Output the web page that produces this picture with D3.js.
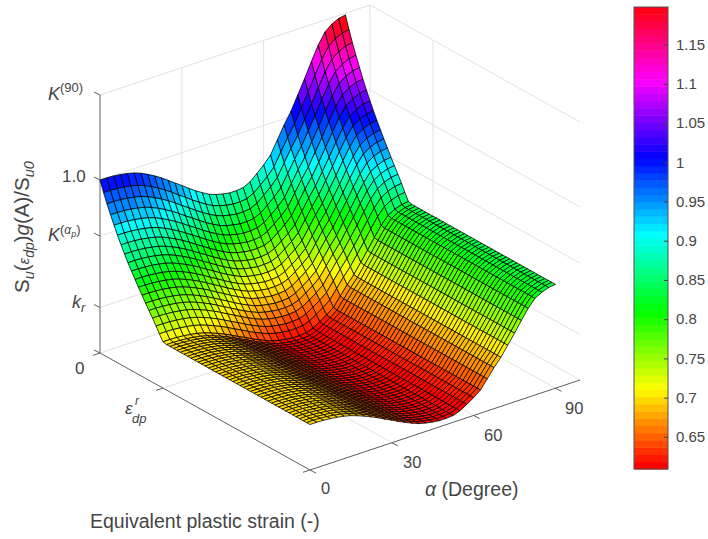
<!DOCTYPE html>
<html><head><meta charset="utf-8">
<style>html,body{margin:0;padding:0;background:#fff;overflow:hidden}text{font-family:"Liberation Sans",Arial,sans-serif;fill:#454545}</style>
<script src="https://cdn.jsdelivr.net/npm/d3@7/dist/d3.min.js"></script>
</head><body><svg id="c" width="708" height="539"></svg>
<script>
// Angle grid (degrees)
const alphaValues=[0,2.5,5,7.5,10,12.5,15,17.5,20,22.5,25,27.5,30,32.5,35,37.5,40,42.5,45,47.5,50,52.5,55,57.5,60,62.5,65,67.5,70,72.5,75,77.5,80,82.5,85,87.5,90];
// Anisotropy profile g(alpha) read from the surface edges
const gValues=[1.000,1.000,.999,.997,.994,.990,.984,.976,.967,.957,.946,.934,.923,.911,.900,.890,.881,.875,.871,.868,.868,.870,.878,.892,.907,.925,.955,.985,1.012,1.045,1.078,1.113,1.146,1.172,1.185,1.193,1.196];
// Normalised plastic-strain grid
const strainValues=[0,.017,.033,.05,.067,.083,.1,.117,.133,.15,.167,.183,.2,.217,.233,.25,.267,.283,.3,.317,.333,.35,.367,.383,.4,.417,.433,.45,.467,.483,.5,.517,.533,.55,.567,.583,.6,.617,.633,.65,.667,.683,.7,.717,.733,.75,.767,.783,.8,.817,.833,.85,.867,.883,.9,.917,.933,.95,.967,.983,1];
// Softening profile S(strain) read from the alpha = 0 edge
const softeningValues=[1,.975,.953,.932,.912,.893,.875,.858,.842,.827,.812,.798,.784,.770,.757,.744,.730,.716,.702,.70,.70,.70,.70,.70,.70,.70,.70,.70,.70,.70,.70,.70,.70,.70,.70,.70,.70,.70,.70,.70,.70,.70,.70,.70,.70,.70,.70,.70,.70,.70,.70,.70,.70,.70,.70,.70,.70,.70,.70,.70,.70];
const alphaTicks=[0,30,60,90];
const strainTicks=[0,.3,1];
const zTicks=[.593,.70,.868,1.0,1.2];
const colorTicks=[.65,.7,.75,.8,.85,.9,.95,1,1.05,1.1,1.15];
const alphaMax=99, zMin=.593, zMax=1.2, cMin=.609, cMax=1.198;

const svg=d3.select("#c");
const O={x:100,y:353};
const aX=d3.scaleLinear([0,alphaMax],[0,270]), aY=d3.scaleLinear([0,alphaMax],[0,-90]);
const eX=d3.scaleLinear([0,1],[0,210]), eY=d3.scaleLinear([0,1],[0,117]);
const zH=d3.scaleLinear([zMin,zMax],[0,258]);
const P=(a,e,z)=>[O.x+aX(a)+eX(e), O.y+aY(a)+eY(e)-zH(z)];
const seg=(p,q)=>"M"+p.join(",")+"L"+q.join(",");

// Colormap: 64-level hsv
const cmap=d3.range(64).map(i=>d3.hsl(i/64*360,1,.5).formatHex());
const color=d3.scaleQuantize([cMin,cMax],cmap);

// Walls and floor grid
const grid=[];
[...zTicks].forEach(z=>{grid.push(seg(P(0,0,z),P(alphaMax,0,z)));grid.push(seg(P(alphaMax,0,z),P(alphaMax,1,z)));});
alphaTicks.slice(1).forEach(a=>{grid.push(seg(P(a,0,zMin),P(a,0,zMax)));grid.push(seg(P(a,0,zMin),P(a,1,zMin)));});
grid.push(seg(P(alphaMax,0,zMin),P(alphaMax,0,zMax)));
grid.push(seg(P(alphaMax,.3,zMin),P(alphaMax,.3,zMax)));
grid.push(seg(P(0,.3,zMin),P(alphaMax,.3,zMin)));
svg.append("g").selectAll("path").data(grid).join("path").attr("d",d=>d).attr("stroke","#e2e2e2").attr("stroke-width",1).attr("fill","none");

// Axis lines and ticks
const axes=[seg(P(0,0,zMin),P(0,0,zMax)),seg(P(0,0,zMin),P(0,1,zMin)),seg(P(0,1,zMin),P(alphaMax,1,zMin))];
zTicks.forEach(z=>{const p=P(0,0,z);axes.push(seg(p,[p[0]-6,p[1]-3]));});
alphaTicks.forEach(a=>{const p=P(a,1,zMin);axes.push(seg(p,[p[0]+6,p[1]+3.2]));});
strainTicks.forEach(e=>{const p=P(0,e,zMin);axes.push(seg(p,[p[0]-7,p[1]+2.3]));});
svg.append("g").selectAll("path").data(axes).join("path").attr("d",d=>d).attr("stroke","#606060").attr("stroke-width",1).attr("fill","none");

// Surface, far cells first
const cells=[];
for(let j=0;j<strainValues.length-1;j++){
  for(let i=alphaValues.length-2;i>=0;i--){
    const z=(ii,jj)=>gValues[ii]*softeningValues[jj];
    cells.push({c:z(i,j),pts:[P(alphaValues[i],strainValues[j],z(i,j)),P(alphaValues[i+1],strainValues[j],z(i+1,j)),P(alphaValues[i+1],strainValues[j+1],z(i+1,j+1)),P(alphaValues[i],strainValues[j+1],z(i,j+1))]});
  }
}
svg.append("g").selectAll("path").data(cells).join("path")
  .attr("d",d=>"M"+d.pts.join("L")+"Z").attr("fill",d=>color(d.c))
  .attr("stroke","#000").attr("stroke-opacity",.9).attr("stroke-width",.85).attr("stroke-linejoin","round");

// Text helper: runs are [text,{style,dy,size}]
function label(x,y,size,runs,rot){
  const t=svg.append("text").attr("x",x).attr("y",y).attr("font-size",size);
  if(rot)t.attr("transform",`rotate(${rot} ${x} ${y})`);
  runs.forEach(r=>{const s=t.append("tspan").text(r[0]);const o=r[1]||{};
    if(o.i)s.attr("font-style","italic");if(o.s)s.attr("font-size",o.s);if(o.dy)s.attr("dy",o.dy);if(o.dx)s.attr("dx",o.dx);});
  return t;
}
// Z tick labels
label(48,100,18,[["K",{i:1}],["(90)",{s:13,dy:-8}]]);
label(62,182,17,[["1.0"]]);
label(48,241,18,[["K",{i:1}],["(",{s:13,dy:-7}],["α",{s:12,i:1}],["p",{s:9,i:1,dy:3}],[")",{s:13,dy:-3}]]);
label(72,308,18,[["k",{i:1}],["r",{s:13,i:1,dy:4}]]);
label(75,374,17,[["0"]]);
// Strain tick labels
label(125,414,17,[["ε",{i:1}]]);
label(135,405,12,[["r",{i:1}]]);
label(132,423,13,[["dp",{i:1}]]);
label(321,494,16.5,[["0"]]);
// Alpha tick labels
const atx={30:403,60:484,90:565}, aty={30:468,60:441,90:414};
svg.append("g").selectAll("text").data(alphaTicks.slice(1)).join("text").attr("x",d=>atx[d]).attr("y",d=>aty[d]).attr("font-size",16.5).text(d=>d);
// Axis titles
label(425,496,19.5,[["α",{i:1}],[" (Degree)"]]);
label(90,528,19.5,[["Equivalent plastic strain (-)"]]);
label(29,293,20.5,[["S"],["u",{s:14.5,i:1,dy:5}],["(",{dy:-5}],["ε",{s:15,i:1}],["dp",{s:14,i:1,dy:5}],[")",{dy:-5}],["g",{i:1}],["(A)/S"],["u0",{s:14.5,i:1,dy:5}]],-90);

// Colorbar
const cbY=d3.scaleLinear([cMin,cMax],[469,7]);
const bandH=(cMax-cMin)/64;
svg.append("g").selectAll("rect").data(cmap).join("rect")
  .attr("x",634).attr("width",34)
  .attr("y",(d,i)=>cbY(cMin+(i+1)*bandH)).attr("height",(d,i)=>cbY(cMin+i*bandH)-cbY(cMin+(i+1)*bandH)+.5).attr("fill",d=>d);
svg.append("rect").attr("x",634).attr("y",7).attr("width",34).attr("height",462).attr("fill","none").attr("stroke","#505050").attr("stroke-width",1);
const cax=svg.append("g").attr("transform","translate(668,0)").call(d3.axisRight(cbY).tickValues(colorTicks).tickSize(-4).tickPadding(8).tickFormat(d=>String(d)));
cax.select(".domain").remove();
cax.selectAll("line").attr("stroke","#404040");
cax.selectAll("text").attr("font-size",15).attr("font-family",'"Liberation Sans",Arial,sans-serif').attr("fill","#454545");
</script></body></html>
